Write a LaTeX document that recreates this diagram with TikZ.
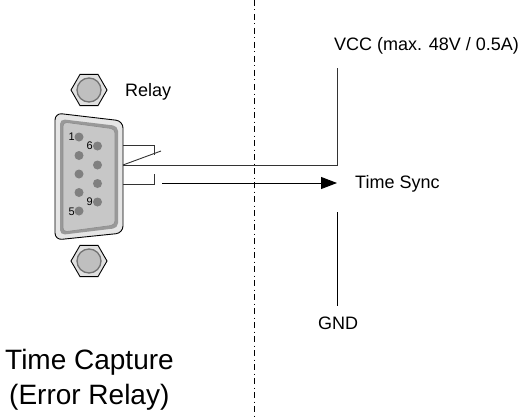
\documentclass[tikz,border=0pt]{standalone}
\usepackage{fontspec}
\setmainfont{Liberation Sans}
\usetikzlibrary{arrows.meta}
\begin{document}
\begin{tikzpicture}[x=1pt,y=-1pt,
  lbl/.style={inner sep=0pt, font=\fontsize{18}{21}\selectfont},
  big/.style={inner sep=0pt, font=\fontsize{28}{33}\selectfont},
  pinlbl/.style={inner sep=0pt, font=\fontsize{11}{13}\selectfont},
  pin/.style={circle, fill=black!50, minimum size=9pt, inner sep=0pt},
  wire/.style={line width=0.9pt, black!80},
  sep/.style={line width=0.8pt, dash pattern=on 6pt off 3.5pt on 1pt off 3.5pt},
  nutbody/.style={fill=black!12, draw=black, line width=0.9pt},
  nutcore/.style={fill=black!25, draw=black!55, line width=1.3pt}]
\useasboundingbox (0,0) rectangle (526,417);

% separator
\coordinate (septop) at (254,0);
\coordinate (sepbot) at (254,417);
\draw[sep] (septop) -- (sepbot);

% nuts
\foreach \n/\cy in {nuttop/90, nutbot/261}{
  \coordinate (\n) at (89,\cy);
  \draw[nutbody] (\n) ++(18,0) -- ++(-9,15.6) -- ++(-18,0) -- ++(-9,-15.6) -- ++(9,-15.6) -- ++(18,0) -- cycle;
  \draw[nutcore] (\n) circle (12);
}

% connector shell
\draw[fill=black!10, draw=black, line width=0.9pt, rounded corners=7pt]
  (55,113) -- (123,121) -- (123,233) -- (55,240) -- cycle;
\fill[black!40, rounded corners=5pt]
  (60,119) -- (118,126) -- (118,228) -- (60,235) -- cycle;
\draw[fill=black!22, draw=black!45, line width=0.6pt, rounded corners=4pt]
  (63,122) -- (115,129) -- (115,225) -- (63,232) -- cycle;

% pins
\node[pin] (p1) at (79,137) {};
\node[pin] (p2) at (79,155.5) {};
\node[pin] (p3) at (79,174) {};
\node[pin] (p4) at (79,192.5) {};
\node[pin] (p5) at (79,211) {};
\node[pin] (p6) at (97.5,146) {};
\node[pin] (p7) at (97.5,165) {};
\node[pin] (p8) at (97.5,183.5) {};
\node[pin] (p9) at (97.5,202) {};
\node[pinlbl, anchor=east] (l1) at (75,137) {1};
\node[pinlbl, anchor=east] (l6) at (93,146) {6};
\node[pinlbl, anchor=east] (l9) at (93,202) {9};
\node[pinlbl, anchor=east] (l5) at (75,212) {5};

% relay contacts
\coordinate (c1) at (123,145);
\coordinate (c1e) at (154,145);
\coordinate (c1d) at (154,155);
\coordinate (c2) at (123,165);
\coordinate (c2e) at (161,151);
\coordinate (c3) at (123,184);
\coordinate (c3e) at (154,184);
\coordinate (c3u) at (154,174);
\coordinate (vccbot) at (337,165);
\coordinate (vcctop) at (337,68);
\coordinate (arrs) at (162,183);
\coordinate (arre) at (337,183);
\coordinate (gndtop) at (337,212);
\coordinate (gndbot) at (337,306);

\draw[wire] (c1) -- (c1e) -- (c1d);
\draw[wire] (c2) -- (c2e);
\draw[wire] (c3) -- (c3e) -- (c3u);
\draw[wire] (c2) -- (vccbot) -- (vcctop);
\draw[line width=0.9pt, -{Triangle[length=16pt,width=12pt]}] (arrs) -- (arre);
\draw[line width=0.9pt] (gndtop) -- (gndbot);

% labels
\node[lbl, anchor=west] (relay) at (125,92) {Relay};
\node[lbl, anchor=west] (vcc) at (334,46) {VCC (max. 48V / 0.5A)};
\node[lbl, anchor=west] (sync) at (355,184) {Time Sync};
\node[lbl] (gnd) at (338,323) {GND};
\node[big, anchor=west] (tc) at (5,362) {Time Capture};
\node[big, anchor=west] (er) at (9,397) {(Error Relay)};
\end{tikzpicture}
\end{document}
